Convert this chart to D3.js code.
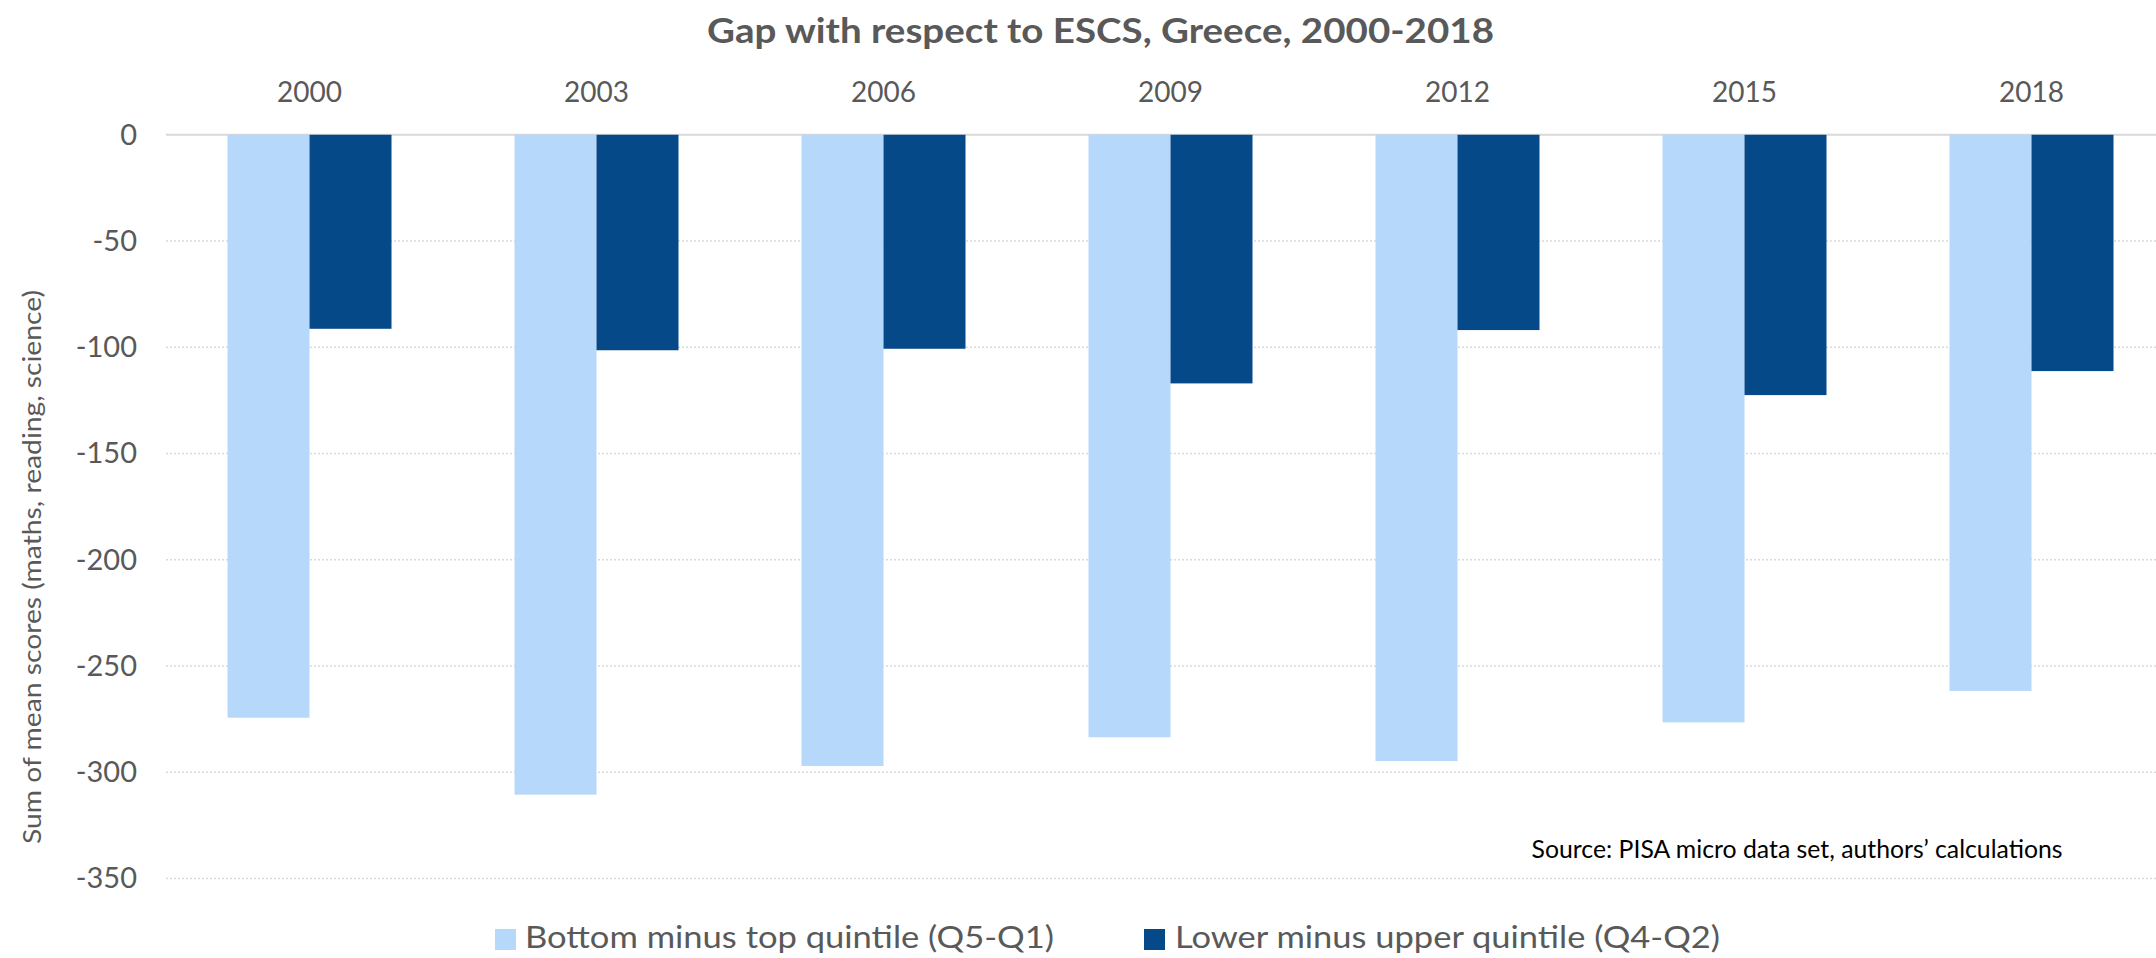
<!DOCTYPE html>
<html><head><meta charset="utf-8">
<script src="https://cdn.jsdelivr.net/npm/d3@7"></script>
<style>
html,body{margin:0;padding:0;background:#fff;overflow:hidden;}
text{font-family:Lato,"Open Sans",sans-serif;}
</style></head>
<body>
<svg id="chart" width="2156" height="958"></svg>
<script>
const years = ["2000","2003","2006","2009","2012","2015","2018"];
const seriesNames = ["Bottom minus top quintile (Q5-Q1)", "Lower minus upper quintile (Q4-Q2)"];
const bottomTop = [-274.3, -310.5, -297.0, -283.5, -294.7, -276.5, -261.7];
const lowerUpper = [-91.3, -101.4, -100.7, -117.0, -91.9, -122.5, -111.2];
const yTicks = [0, -50, -100, -150, -200, -250, -300, -350];
const colors = ["#b5d8fb", "#054989"];
const titleText = "Gap with respect to ESCS, Greece, 2000-2018";
const yTitleText = "Sum of mean scores (maths, reading, science)";
const sourceText = "Source: PISA micro data set, authors\u2019 calculations";

const svg = d3.select("#chart");
const y = d3.scaleLinear().domain([-350, 0]).range([878.6, 134.75]);
const x0 = d3.scaleBand().domain(years).range([166, 166 + 7 * 287]).paddingInner(0.4286).paddingOuter(0.2143);
const x1 = d3.scaleBand().domain([0, 1]).range([0, x0.bandwidth()]);

// gridlines
const grid = svg.append("g");
yTicks.forEach(t => {
  grid.append("line")
    .attr("x1", 166).attr("x2", 2200)
    .attr("y1", y(t)).attr("y2", y(t))
    .attr("stroke", "#d9d9d9")
    .attr("stroke-width", t === 0 ? 2 : 1.5)
    .attr("stroke-dasharray", t === 0 ? null : "2,2");
});

// y tick labels (hyphen-minus as in reference)
const yAxis = d3.axisLeft(y).tickValues(yTicks).tickSize(0).tickPadding(0).tickFormat(d => String(d));
const ya = svg.append("g").attr("transform", "translate(137,0)").call(yAxis);
ya.select(".domain").remove();
ya.selectAll("text").attr("fill", "#595959").style("font-size", "29px").style("font-family", "Lato");

// year labels on top
const xAxis = d3.axisTop(x0).tickSize(0).tickPadding(0);
const xa = svg.append("g").attr("transform", "translate(0,102)").call(xAxis);
xa.select(".domain").remove();
xa.selectAll("text").attr("fill", "#595959").attr("dy", 0).style("font-size", "28px").style("font-family", "Lato");

// bars
const data = [bottomTop, lowerUpper];
data.forEach((vals, si) => {
  svg.append("g").selectAll("rect").data(vals).join("rect")
    .attr("x", (d, i) => x0(years[i]) + x1(si))
    .attr("width", x1.bandwidth())
    .attr("y", y(0))
    .attr("height", d => y(d) - y(0))
    .attr("fill", colors[si]);
});

// title
svg.append("text").attr("x", 1100.5).attr("y", 42.7).attr("text-anchor", "middle")
  .attr("fill", "#595959").style("font-size", "34px").style("font-weight", "bold")
  .attr("textLength", 787).attr("lengthAdjust", "spacingAndGlyphs")
  .text(titleText);

// y title
svg.append("text").attr("transform", "translate(41,567) rotate(-90)").attr("text-anchor", "middle")
  .attr("fill", "#595959").style("font-size", "25px")
  .attr("textLength", 554).attr("lengthAdjust", "spacingAndGlyphs")
  .text(yTitleText);

// source
svg.append("text").attr("x", 1531.6).attr("y", 858).attr("fill", "#000")
  .style("font-size", "25px")
  .attr("textLength", 531).attr("lengthAdjust", "spacingAndGlyphs")
  .text(sourceText);

// legend
const legendPos = [{sx: 495, tx: 525, tw: 529}, {sx: 1144, tx: 1175, tw: 545}];
seriesNames.forEach((name, i) => {
  svg.append("rect").attr("x", legendPos[i].sx).attr("y", 929).attr("width", 21).attr("height", 21).attr("fill", colors[i]);
  svg.append("text").attr("x", legendPos[i].tx).attr("y", 948).attr("fill", "#595959")
    .style("font-size", "31px")
    .attr("textLength", legendPos[i].tw).attr("lengthAdjust", "spacingAndGlyphs")
    .text(name);
});
</script>
</body></html>
